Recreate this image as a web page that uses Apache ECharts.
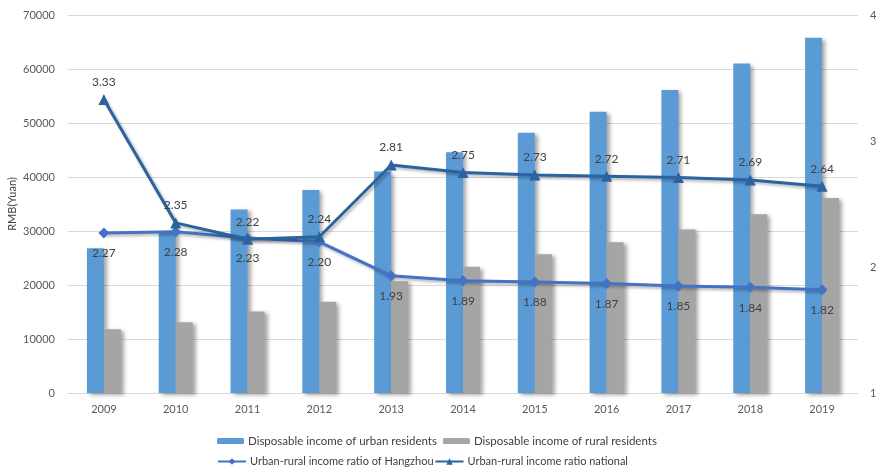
<!DOCTYPE html>
<html>
<head>
<meta charset="utf-8">
<script src="https://cdn.jsdelivr.net/npm/echarts@6/dist/echarts.min.js"></script>
<style>
  html, body { margin: 0; padding: 0; background: #fff; }
  #chart { width: 880px; height: 468px; }
</style>
</head>
<body>
<div id="chart"></div>
<script>
// Income data, 2009-2019
const years = ['2009', '2010', '2011', '2012', '2013', '2014', '2015', '2016', '2017', '2018', '2019'];
const urbanIncome = [26800, 30000, 34000, 37600, 41000, 44600, 48200, 52100, 56100, 61000, 65800];
const ruralIncome = [11800, 13100, 15100, 16900, 20700, 23400, 25700, 27900, 30300, 33100, 36100];
const ratioHangzhou = [2.27, 2.28, 2.23, 2.20, 1.93, 1.89, 1.88, 1.87, 1.85, 1.84, 1.82];
const ratioNational = [3.33, 2.35, 2.22, 2.24, 2.81, 2.75, 2.73, 2.72, 2.71, 2.69, 2.64];

const FONT = 'Lato';
const chart = echarts.init(document.getElementById('chart'));

const barShadow = {
  shadowColor: 'rgba(0,0,0,0.35)',
  shadowBlur: 4,
  shadowOffsetX: 3,
  shadowOffsetY: 2
};
const legendText = { fontFamily: FONT, fontSize: 11.5, color: '#404040', padding: [0, 0, 0, -1] };

chart.setOption({
  animation: false,
  textStyle: { fontFamily: FONT },
  grid: { left: 68, right: 22, top: 15, bottom: 75, outerBoundsMode: 'none' },
  legend: [
    {
      left: 212, top: 430,
      itemWidth: 27, itemHeight: 6, itemGap: 6,
      textStyle: legendText,
      data: ['Disposable income of urban residents', 'Disposable income of rural residents']
    },
    {
      left: 212, top: 451,
      itemWidth: 28, itemHeight: 8, itemGap: 1,
      textStyle: Object.assign({}, legendText, { fontSize: 11 }),
      data: ['Urban-rural income ratio of Hangzhou', 'Urban-rural income ratio national']
    }
  ],
  xAxis: {
    type: 'category',
    data: years,
    axisLine: { lineStyle: { color: '#d9d9d9' } },
    axisTick: { show: false },
    axisLabel: { fontFamily: FONT, fontSize: 11, color: '#595959', margin: 11 }
  },
  yAxis: [
    {
      type: 'value',
      min: 0, max: 70000, interval: 10000,
      name: 'RMB(Yuan)',
      nameLocation: 'middle',
      nameRotate: 90,
      nameGap: 50,
      nameMoveOverlap: false,
      nameTextStyle: { fontFamily: FONT, fontSize: 11, color: '#404040' },
      axisLine: { show: false },
      axisTick: { show: false },
      axisLabel: { fontFamily: FONT, fontSize: 11, color: '#595959', margin: 13, formatter: v => String(v) },
      splitLine: { lineStyle: { color: '#d9d9d9' } }
    },
    {
      type: 'value',
      min: 1, max: 4, interval: 1,
      axisLine: { show: false },
      axisTick: { show: false },
      axisLabel: { fontFamily: FONT, fontSize: 11, color: '#595959', margin: 12 },
      splitLine: { show: false }
    }
  ],
  series: [
    {
      name: 'Disposable income of urban residents',
      type: 'bar',
      data: urbanIncome,
      barWidth: 17,
      barGap: '0%',
      itemStyle: Object.assign({ color: '#5b9bd5' }, barShadow)
    },
    {
      name: 'Disposable income of rural residents',
      type: 'bar',
      data: ruralIncome,
      barWidth: 17,
      barGap: '0%',
      itemStyle: Object.assign({ color: '#a5a5a5' }, barShadow)
    },
    {
      name: 'Urban-rural income ratio of Hangzhou',
      type: 'line',
      yAxisIndex: 1,
      data: ratioHangzhou,
      symbol: 'diamond',
      symbolSize: 11,
      z: 5,
      lineStyle: { color: '#4472c4', width: 3, shadowColor: 'rgba(0,0,0,0.3)', shadowBlur: 3, shadowOffsetX: 2, shadowOffsetY: 2 },
      itemStyle: { color: '#4472c4', borderWidth: 0 },
      label: {
        show: true, position: 'bottom', distance: 9,
        fontFamily: FONT, fontSize: 12, color: '#404040',
        formatter: p => p.value.toFixed(2)
      }
    },
    {
      name: 'Urban-rural income ratio national',
      type: 'line',
      yAxisIndex: 1,
      data: ratioNational,
      symbol: 'triangle',
      symbolSize: 11,
      z: 6,
      lineStyle: { color: '#2b62a0', width: 3, shadowColor: 'rgba(0,0,0,0.3)', shadowBlur: 3, shadowOffsetX: 2, shadowOffsetY: 2 },
      itemStyle: { color: '#2b62a0', borderWidth: 0 },
      label: {
        show: true, position: 'top', distance: 6,
        fontFamily: FONT, fontSize: 12, color: '#404040',
        formatter: p => p.value.toFixed(2)
      }
    }
  ]
});
</script>
</body>
</html>
